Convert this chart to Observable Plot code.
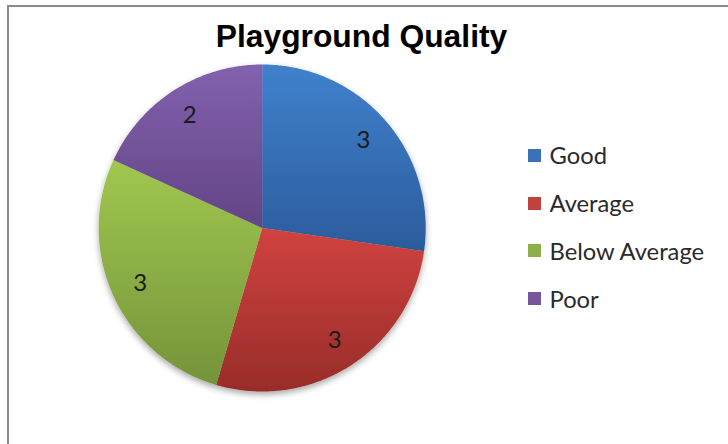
<!DOCTYPE html>
<html>
<head>
<meta charset="utf-8">
<script src="https://cdn.jsdelivr.net/npm/d3@7"></script>
<script src="https://cdn.jsdelivr.net/npm/@observablehq/plot@0.6"></script>
<style>
  html, body { margin: 0; padding: 0; background: #fff; }
  #chart { position: relative; width: 728px; height: 444px; overflow: hidden; background: #fff; }
  #frame { position: absolute; left: 7px; top: 5px; width: 800px; height: 520px;
           border-left: 2px solid #8a8a8a; border-top: 2px solid #8a8a8a; box-sizing: border-box; pointer-events: none; }
  #plot { position: absolute; left: 0; top: 0; }
  #title { position: absolute; left: 0; width: 723px; top: 21.2px; text-align: center;
           font: bold 31.8px "Liberation Sans", Arial, sans-serif; line-height: 31.8px; color: #000; }
  #legend { position: absolute; left: 527.5px; top: 131.6px; }
  #legend .lg-swatch { height: 47.7px; padding: 0 !important; margin: 0 !important; }
  #legend .lg-swatch > svg { margin-right: 9px !important; }
  #legend .lg-swatches { margin: 0 !important; }
</style>
</head>
<body>
<div id="chart">
  <div id="plot"></div>
  <div id="title"></div>
  <div id="legend"></div>
  <div id="frame"></div>
</div>
<script>
// ---- data ----
const title = "Playground Quality";
const categories = ["Good", "Average", "Below Average", "Poor"];
const values = [3, 3, 3, 2];
const swatchColors = ["#3A72B8", "#C0413D", "#8DB048", "#75559C"];
const gradTop = ["#4081CD", "#D0433F", "#A1C74F", "#8261AE"];
const gradBottom = ["#2B5C9C", "#982C29", "#75933A", "#624585"];

// ---- layout ----
const W = 728, H = 444;
const cx = 261.7, cy = 227.5, R = 163.5;

// ---- geometry from data ----
const arcs = d3.pie().sort(null)(values);
const slices = arcs.map((a, i) => {
  const pts = [{x: 0, y: 0}];
  const n = Math.max(4, Math.ceil((a.endAngle - a.startAngle) / (Math.PI / 360)));
  for (let k = 0; k <= n; k++) {
    const t = a.startAngle + (a.endAngle - a.startAngle) * k / n;
    pts.push({x: Math.sin(t), y: Math.cos(t)});
  }
  pts.push({x: 0, y: 0});
  return pts;
});
const labelR = 0.82;
const labels = arcs.map((a, i) => {
  const m = (a.startAngle + a.endAngle) / 2;
  return {x: labelR * Math.sin(m), y: labelR * Math.cos(m), text: String(values[i])};
});

const plot = Plot.plot({
  width: W,
  height: H,
  margin: 0,
  x: {domain: [-cx / R, (W - cx) / R], axis: null},
  y: {domain: [-(H - cy) / R, cy / R], axis: null},
  marks: [
    ...slices.map((pts, i) => Plot.line(pts, {x: "x", y: "y", fill: `url(#slice${i})`, stroke: "none", curve: "linear"})),
    Plot.text(labels, {x: "x", y: "y", text: "text", fontSize: 24, fontFamily: "Lato", fill: "#1a1a1a"})
  ]
});

// gradients + shadow
const svg = d3.select(plot);
const defs = svg.insert("defs", ":first-child");
categories.forEach((c, i) => {
  const g = defs.append("linearGradient").attr("id", `slice${i}`).attr("x1", 0).attr("y1", 0).attr("x2", 0).attr("y2", 1);
  g.append("stop").attr("offset", "0%").attr("stop-color", gradTop[i]);
  g.append("stop").attr("offset", "100%").attr("stop-color", gradBottom[i]);
});
const f = defs.append("filter").attr("id", "pieShadow").attr("x", "-10%").attr("y", "-10%").attr("width", "120%").attr("height", "125%");
f.append("feDropShadow").attr("dx", 0).attr("dy", 3).attr("stdDeviation", 3).attr("flood-color", "#000").attr("flood-opacity", 0.35);
const lineGroups = svg.selectAll('g[aria-label="line"]').nodes();
const wrap = svg.insert("g", () => lineGroups[0]).attr("filter", "url(#pieShadow)");
lineGroups.forEach(n => wrap.node().appendChild(n));

document.getElementById("plot").appendChild(plot);
document.getElementById("title").textContent = title;

// legend font size fitted to reference width of the longest label
const ctx = document.createElement("canvas").getContext("2d");
ctx.font = "22px Lato";
const fs = 22 * 156 / ctx.measureText("Below Average").width;

const legend = Plot.legend({
  color: {type: "ordinal", domain: categories, range: swatchColors},
  legend: "swatches",
  columns: 1,
  swatchSize: 13,
  className: "lg",
  style: {fontSize: fs + "px", fontFamily: "Lato", color: "#2a2a2a", margin: "0"}
});
document.getElementById("legend").appendChild(legend);
</script>
</body>
</html>
